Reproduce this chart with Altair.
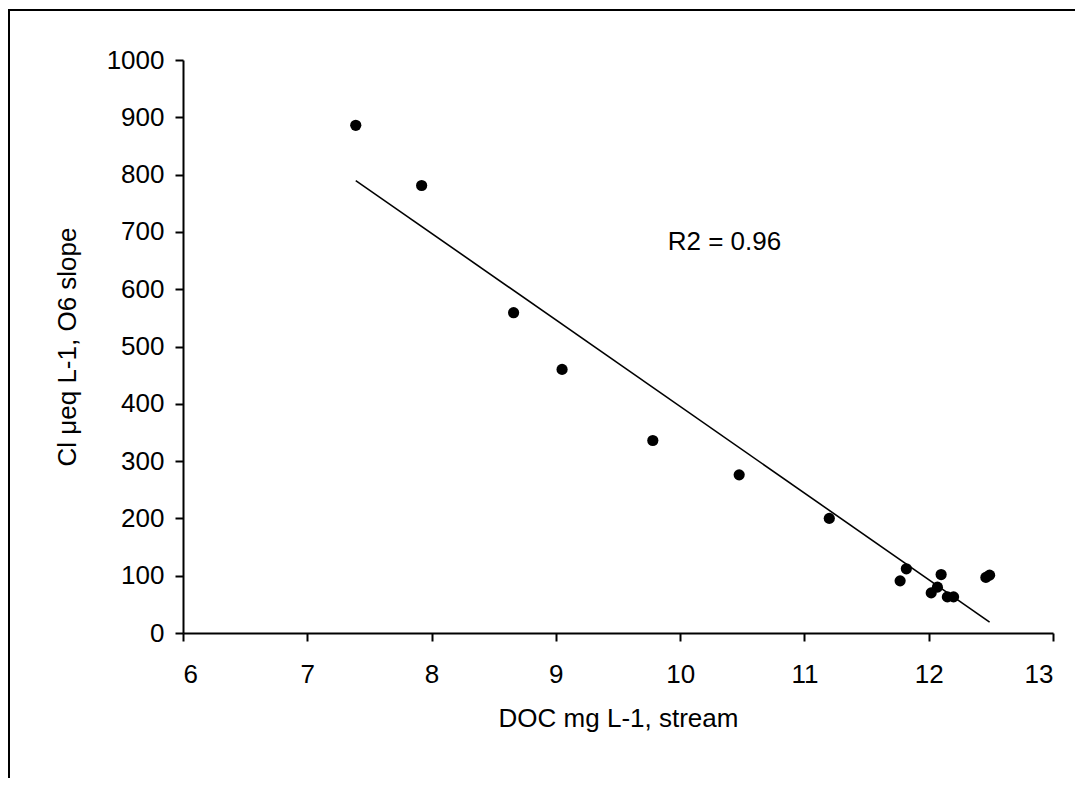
import altair as alt
import pandas as pd

doc = [7.39, 7.92, 8.66, 9.05, 9.78, 10.475, 11.20, 11.82, 11.77, 12.10,
       12.02, 12.07, 12.15, 12.20, 12.46, 12.49]
cl = [886, 781, 559, 460, 336, 276, 200, 112, 91, 102,
      70, 80, 63, 63, 97, 101]
x_ticks = [6, 7, 8, 9, 10, 11, 12, 13]
y_ticks = [0, 100, 200, 300, 400, 500, 600, 700, 800, 900, 1000]
r2_label = ["R2 = 0.96"]

df = pd.DataFrame({"doc": doc, "cl": cl})

FONT = "Liberation Sans"
FS = 26
W, H = 870, 573

x_enc = alt.X(
    "doc:Q",
    scale=alt.Scale(domain=[6, 13], nice=False, zero=False),
    axis=alt.Axis(
        values=x_ticks, format="d", title="DOC mg L-1, stream", grid=False,
        domainColor="black", domainWidth=2, tickColor="black", tickWidth=2,
        tickSize=8, labelPadding=20, labelFont=FONT, labelFontSize=FS,
        labelColor="black", titleFont=FONT, titleFontSize=FS,
        titleFontWeight="normal", titleColor="black",
        titleX=W / 2, titleY=85, titleBaseline="middle", titleAlign="center",
    ),
)
y_enc = alt.Y(
    "cl:Q",
    scale=alt.Scale(domain=[0, 1000], nice=False),
    axis=alt.Axis(
        values=y_ticks, format="d", title="Cl μeq L-1, O6 slope", grid=False,
        domainColor="black", domainWidth=2, tickColor="black", tickWidth=2,
        tickSize=8, labelPadding=11, labelFont=FONT, labelFontSize=FS,
        labelColor="black", titleFont=FONT, titleFontSize=FS,
        titleFontWeight="normal", titleColor="black",
        titleX=-116, titleY=H / 2, titleAngle=-90, titleBaseline="middle",
        titleAlign="center",
    ),
)

points = alt.Chart(df).mark_circle(size=125, color="black", opacity=1).encode(
    x=x_enc, y=y_enc
)

trend = (
    alt.Chart(df)
    .transform_regression("doc", "cl")
    .mark_line(color="black", strokeWidth=1.6)
    .encode(x="doc:Q", y="cl:Q")
)

label = alt.Chart(pd.DataFrame({"t": r2_label})).mark_text(
    font=FONT, fontSize=FS, color="black", align="left", baseline="alphabetic"
).encode(x=alt.value(484.7), y=alt.value(190), text="t:N")

left_border = alt.Chart(pd.DataFrame({"t": r2_label})).mark_rule(
    color="black", strokeWidth=2
).encode(x=alt.value(-174), y=alt.value(-51), y2=alt.value(H + 145))

top_border = alt.Chart(pd.DataFrame({"t": r2_label})).mark_rule(
    color="black", strokeWidth=2
).encode(y=alt.value(-50), x=alt.value(-175), x2=alt.value(W + 22))

chart = (
    alt.layer(points, trend, label, left_border, top_border)
    .properties(
        width=W, height=H,
        autosize=alt.AutoSizeParams(type="none"),
        padding={"left": 175, "top": 52, "right": 22, "bottom": 145},
        view=alt.ViewBackground(stroke="white", strokeWidth=0, fill="white"),
    )
    .configure_view(stroke="white", strokeWidth=0)
    .configure(background="white")
)

chart.save("out.html", embed_options={"renderer": "svg", "actions": False})
